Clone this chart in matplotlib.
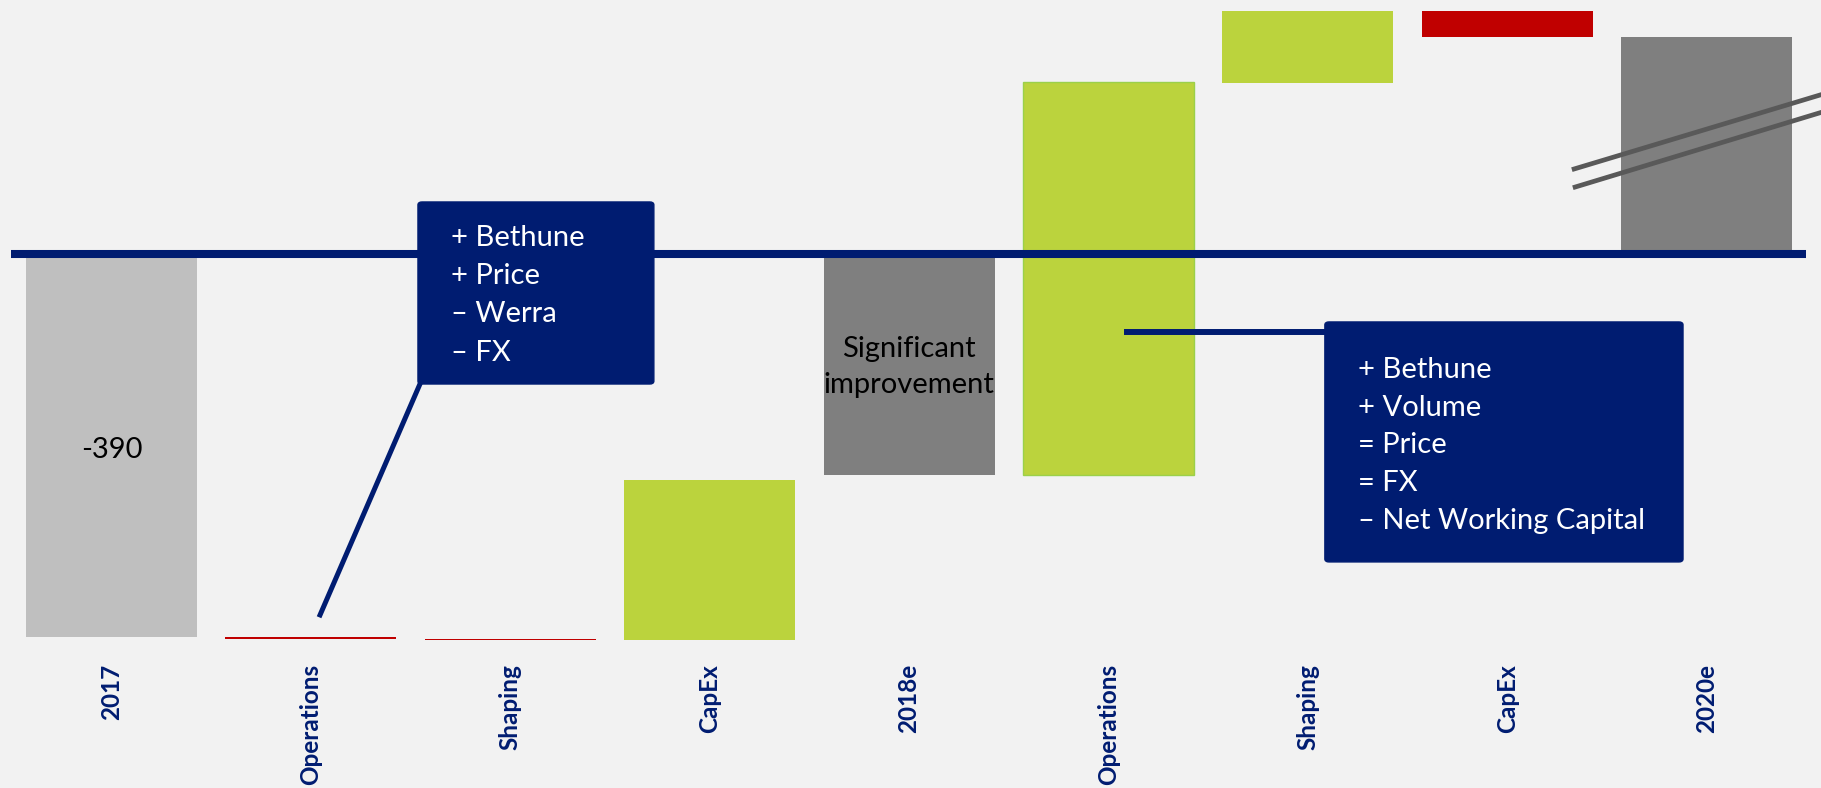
import matplotlib
matplotlib.use('Agg')
import numpy as np
from matplotlib import pyplot as plt
from matplotlib.patches import FancyBboxPatch

# Waterfall data (units, 2017 = -390)
categories = ['2017', 'Operations', 'Shaping', 'CapEx', '2018e',
              'Operations', 'Shaping', 'CapEx', '2020e']
bar_bottoms = [0, -390, -392, -393, 0, -225, 174, 247, 221]
bar_deltas = [-390, -2, -1, 163, -225, 400, 73, -26, -221]
bar_kinds = ['total_light', 'neg', 'neg', 'pos', 'total', 'pos', 'pos', 'neg', 'total']
bar_labels = {0: '-390', 4: 'Significant\nimprovement'}

box_left_lines = ['+ Bethune', '+ Price', '\u2013 Werra', '\u2013 FX']
box_right_lines = ['+ Bethune', '+ Volume', '= Price', '= FX', '\u2013 Net Working Capital']

navy = '#001C71'
colors = {'total_light': '#BFBFBF', 'total': '#7F7F7F', 'pos': '#BBD33D', 'neg': '#C00000'}
bg = '#F2F2F2'

plt.rcParams['font.family'] = ['Lato', 'DejaVu Sans']

fig = plt.figure(figsize=(18.21, 7.88), dpi=100, facecolor=bg)
ax = fig.add_axes([0, 138 / 788, 1, 650 / 788])
ax.set_facecolor(bg)
ax.set_xlim(-0.559, 8.573)
ax.set_ylim(-403.3, 258.7)

x = np.arange(len(categories))
for i in range(len(categories)):
    ec = '#9BD04A' if i == 5 else 'none'
    ax.bar(x[i], bar_deltas[i], bottom=bar_bottoms[i], width=0.857,
           color=colors[bar_kinds[i]], edgecolor=ec, linewidth=1, zorder=2)

# labels inside the total bars
ax.text(x[0], -200, bar_labels[0], ha='center', va='center', fontsize=21,
        color='black', zorder=3)
ax.text(x[4], -115, bar_labels[4], ha='center', va='center', fontsize=21,
        color='black', linespacing=1.45, zorder=3)

# zero line
ax.plot([-0.504, 8.497], [0, 0], color=navy, linewidth=5.8, solid_capstyle='butt', zorder=4)

# break marks on the 2020e bar
ax.plot([7.335, 8.7], [86.6, 170], color='#595959', linewidth=3.4, zorder=5)
ax.plot([7.34, 8.7], [68.2, 152], color='#595959', linewidth=3.4, zorder=5)

# callout boxes
ax.plot([1.547, 1.046], [-132.4, -367.6], color=navy, linewidth=3.6, zorder=5)
ax.add_patch(FancyBboxPatch((1.537, -132.4), 2.72 - 1.537, 53 + 132.4,
                            boxstyle='round,pad=0,rounding_size=0.02',
                            facecolor=navy, edgecolor=navy, linewidth=1,
                            mutation_aspect=150, zorder=6))
ax.text(1.702, -42, '\n'.join(box_left_lines), ha='left', va='center',
        fontsize=21, color='white', linespacing=1.58, zorder=7)

ax.plot([5.093, 6.09], [-79.4, -79.4], color=navy, linewidth=4.3, zorder=5)
ax.add_patch(FancyBboxPatch((6.085, -313.6), 7.881 - 6.085, 313.6 - 69.2,
                            boxstyle='round,pad=0,rounding_size=0.02',
                            facecolor=navy, edgecolor=navy, linewidth=1,
                            mutation_aspect=150, zorder=6))
ax.text(6.251, -195, '\n'.join(box_right_lines), ha='left', va='center',
        fontsize=21, color='white', linespacing=1.56, zorder=7)

ax.set_xticks(x)
ax.set_xticklabels(categories, rotation=90, fontsize=17.5, fontweight='bold', color=navy)
ax.tick_params(axis='x', length=0, pad=10)
ax.set_yticks([])
for s in ax.spines.values():
    s.set_visible(False)

fig.savefig('out.png', dpi=100, facecolor=bg)
